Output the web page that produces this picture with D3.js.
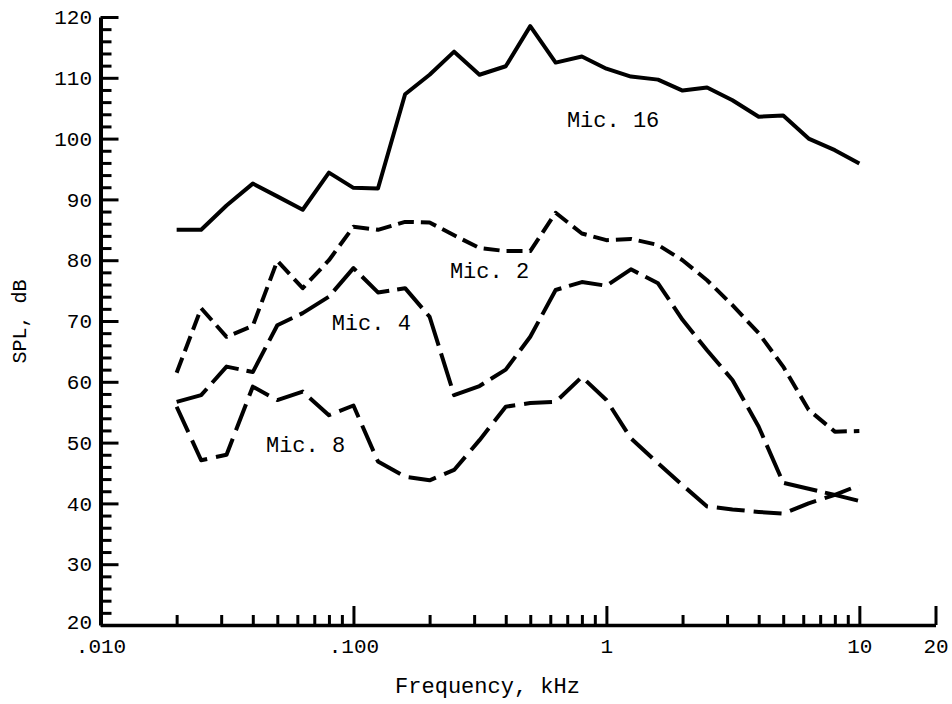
<!DOCTYPE html>
<html>
<head>
<meta charset="utf-8">
<script src="https://cdn.jsdelivr.net/npm/d3@7/dist/d3.min.js"></script>
<style>
  html, body { margin: 0; padding: 0; background: #fff; }
  svg { display: block; }
  text { font-family: "Liberation Mono", "Courier New", monospace; fill: #000; }
</style>
</head>
<body>
<script>
// One-third-octave band centre frequencies, kHz
const freqs = [0.02, 0.025, 0.0315, 0.04, 0.05, 0.063, 0.08, 0.1, 0.125, 0.16, 0.2, 0.25,
               0.315, 0.4, 0.5, 0.63, 0.8, 1, 1.25, 1.6, 2, 2.5, 3.15, 4, 5, 6.3, 8, 10];

// Sound pressure level per band, dB
const mic16 = [85.0, 85.0, 89.0, 92.6, 90.5, 88.3, 94.4, 91.9, 91.8, 107.3, 110.5, 114.3,
               110.5, 111.9, 118.5, 112.5, 113.5, 111.5, 110.2, 109.7, 107.9, 108.4, 106.3, 103.6,
               103.8, 100.0, 98.1, 95.9];
const mic2  = [61.5, 72.1, 67.4, 69.2, 79.9, 75.4, 80.0, 85.5, 85.0, 86.3, 86.2, 84.1,
               82.0, 81.5, 81.5, 87.8, 84.4, 83.3, 83.5, 82.5, 80.0, 76.7, 72.6, 68.0,
               62.5, 55.4, 51.8, 51.9];
const mic4  = [56.7, 57.8, 62.5, 61.6, 69.3, 71.3, 74.0, 78.7, 74.7, 75.4, 70.7, 57.8,
               59.3, 62.0, 67.4, 75.1, 76.4, 75.8, 78.5, 76.2, 70.2, 65.2, 60.3, 52.6,
               43.4, 42.4, 41.4, 40.4];
const mic8  = [55.9, 47.1, 48.0, 59.2, 57.0, 58.4, 54.5, 56.1, 46.9, 44.4, 43.8, 45.5,
               50.4, 55.9, 56.5, 56.7, 60.8, 57.0, 50.7, 46.6, 43.0, 39.5, 39.0, 38.6,
               38.3, 40.0, 41.4, 43.0];

const seriesNames = ["Mic. 16", "Mic. 2", "Mic. 4", "Mic. 8"];

// Axis ticks
const xTickValues = [0.01, 0.1, 1, 10, 20];
const xTickLabels = [".010", ".100", "1", "10", "20"];
const yTickValues = [20, 30, 40, 50, 60, 70, 80, 90, 100, 110, 120];

const W = 952, H = 704;
const svg = d3.select("body").append("svg").attr("width", W).attr("height", H);

const x = d3.scaleLog().domain([0.01, 20]).range([100.5, 935.5]);
const y = d3.scaleLinear().domain([20, 120]).range([625, 17]);

// Minor ticks: 2..9 in each full decade, every 2 dB on the level axis
const xMinor = [];
[0.01, 0.1, 1].forEach(d => { for (let k = 2; k <= 9; k++) xMinor.push(d * k); });
const yMinor = d3.range(22, 120, 2).filter(v => v % 10 !== 0);

// Level axis
const gy = svg.append("g").attr("transform", `translate(${x(0.01)},0)`);
gy.call(d3.axisLeft(y).tickValues(yTickValues).tickFormat(d3.format("d"))
          .tickSizeInner(-18).tickSizeOuter(0).tickPadding(8.5));
gy.append("g").call(d3.axisLeft(y).tickValues(yMinor).tickFormat("")
          .tickSizeInner(-11).tickSizeOuter(0))
  .select(".domain").remove();
gy.selectAll("path.domain").attr("stroke", "#000").attr("stroke-width", 4);
gy.selectAll(".tick line").attr("stroke", "#000").attr("stroke-width", 3);
gy.selectAll(".tick text").attr("font-size", 21);
// the bottom label sits a little above its tick, clear of the frequency labels
gy.selectAll(".tick text").filter(d => d === 20).attr("dy", 3);

// Frequency axis
const gx = svg.append("g").attr("transform", `translate(0,${y(20)})`);
gx.call(d3.axisBottom(x).tickValues(xTickValues)
          .tickFormat((d, i) => xTickLabels[i])
          .tickSizeInner(-19).tickSizeOuter(0).tickPadding(12.6));
gx.append("g").call(d3.axisBottom(x).tickValues(xMinor).tickFormat("")
          .tickSizeInner(-10).tickSizeOuter(0))
  .select(".domain").remove();
gx.selectAll("path.domain").attr("stroke", "#000").attr("stroke-width", 3.5);
gx.selectAll(".tick line").attr("stroke", "#000").attr("stroke-width", 3);
gx.selectAll(".tick text").attr("font-size", 21);

// Axis titles
svg.append("text")
  .attr("x", 487.5).attr("y", 693)
  .attr("text-anchor", "middle").attr("font-size", 22)
  .text("Frequency, kHz");
svg.append("text")
  .attr("transform", "translate(20,321.5) rotate(-90)")
  .attr("text-anchor", "middle").attr("dominant-baseline", "central")
  .attr("font-size", 20)
  .text("SPL, dB");

// Curves
const line = d3.line()
  .x((d, i) => x(freqs[i]))
  .y(d => y(d));

const curves = [
  { values: mic16, dash: null },
  { values: mic2,  dash: "16,7" },
  { values: mic4,  dash: "34,8" },
  { values: mic8,  dash: "28,9" }
];

svg.append("g").selectAll("path")
  .data(curves)
  .join("path")
  .attr("d", c => line(c.values))
  .attr("fill", "none")
  .attr("stroke", "#000")
  .attr("stroke-width", 4)
  .attr("stroke-linejoin", "round")
  .attr("stroke-dasharray", c => c.dash);

// Curve labels, placed in frequency / level coordinates
const labelPos = [
  { f: 0.698, db: 101.9 },
  { f: 0.2406, db: 77.0 },
  { f: 0.082, db: 68.5 },
  { f: 0.0451, db: 48.5 }
];
svg.append("g").selectAll("text")
  .data(seriesNames)
  .join("text")
  .attr("x", (d, i) => x(labelPos[i].f))
  .attr("y", (d, i) => y(labelPos[i].db))
  .attr("font-size", 22)
  .text(d => d);
</script>
</body>
</html>
